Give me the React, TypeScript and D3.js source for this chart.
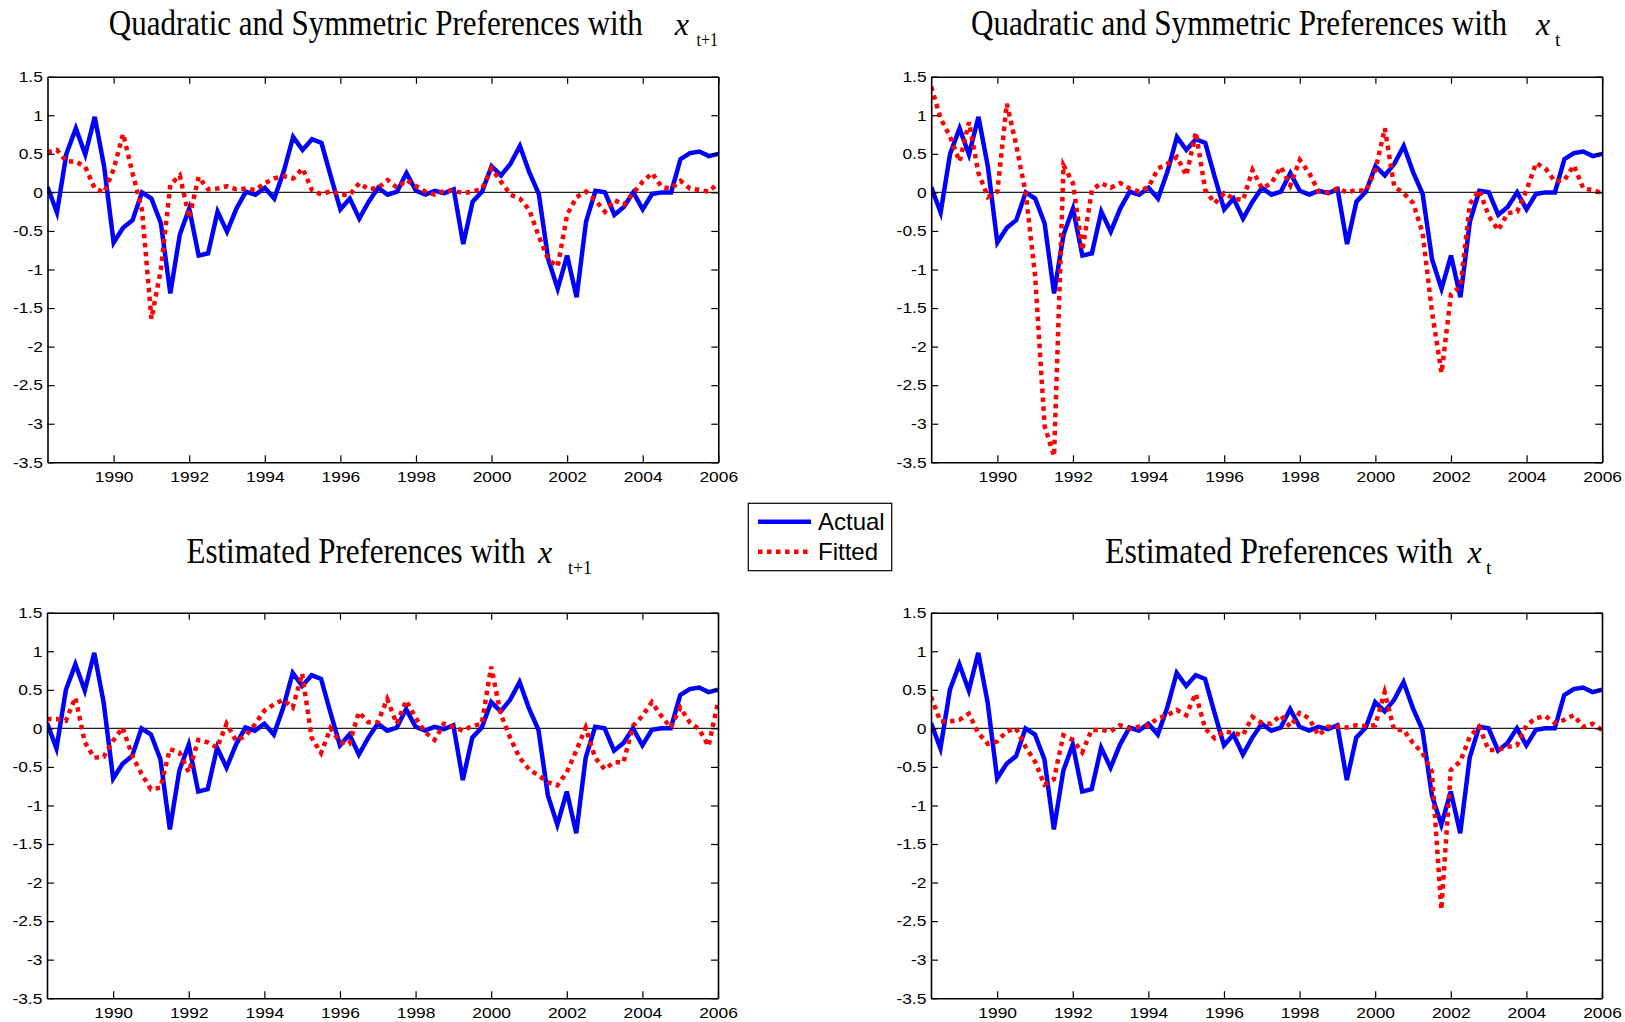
import { useEffect, useRef } from "react";
import * as d3 from "d3";

// Quarterly observations, 1988Q2 .. 2006Q1 (72 points)
const START_YEAR = 1988.25;
const END_YEAR = 2006;
const quarters = d3.range(72).map((i) => START_YEAR + i * 0.25);

const actual = [
  0.07, -0.26, 0.5, 0.83, 0.49, 0.98, 0.33, -0.65, -0.46, -0.36,
  0.0, -0.08, -0.4, -1.31, -0.55, -0.21, -0.82, -0.79, -0.25, -0.51,
  -0.21, 0.01, -0.03, 0.06, -0.08, 0.27, 0.72, 0.55, 0.69, 0.64,
  0.2, -0.22, -0.08, -0.34, -0.12, 0.06, -0.03, 0.01, 0.25, 0.02,
  -0.03, 0.02, -0.01, 0.04, -0.67, -0.12, 0.01, 0.34, 0.22, 0.37,
  0.6, 0.26, -0.02, -0.87, -1.25, -0.82, -1.36, -0.38, 0.02, 0.0,
  -0.29, -0.19, 0.0, -0.22, -0.02, 0.0, 0.0, 0.43, 0.51, 0.53,
  0.47, 0.5,
];

// quadratic & symmetric, x_{t+1}
const fittedQuadLead = [
  0.52, 0.55, 0.4, 0.4, 0.33, 0.05, 0.0, 0.3, 0.76, 0.25,
  -0.23, -1.64, -1.0, 0.1, 0.22, -0.33, 0.2, 0.04, 0.05, 0.08,
  0.04, 0.05, 0.03, 0.12, 0.18, 0.21, 0.18, 0.31, 0.03, -0.03,
  0.02, -0.03, -0.03, 0.12, 0.04, 0.06, 0.16, 0.06, 0.16, 0.08,
  0.01, -0.03, 0.02, 0.02, -0.01, 0.01, 0.05, 0.31, 0.14, -0.03,
  -0.08, -0.23, -0.57, -0.87, -0.96, -0.29, -0.06, 0.01, -0.1, -0.25,
  -0.1, -0.16, -0.01, 0.14, 0.25, 0.07, 0.05, 0.15, 0.05, 0.03,
  0.01, 0.12,
];

// quadratic & symmetric, x_t
const fittedQuadCurrent = [
  1.37, 0.96, 0.72, 0.4, 0.91, 0.25, -0.06, 0.01, 1.15, 0.61,
  -0.01, -1.09, -3.03, -3.42, 0.35, 0.12, -0.75, 0.03, 0.12, 0.06,
  0.12, 0.05, 0.01, 0.07, 0.31, 0.37, 0.46, 0.22, 0.78, 0.03,
  -0.14, -0.01, -0.08, -0.1, 0.29, 0.05, 0.12, 0.33, 0.09, 0.42,
  0.25, 0.01, 0.0, 0.05, 0.0, 0.03, 0.02, 0.29, 0.83, 0.07,
  -0.01, -0.14, -0.53, -1.56, -2.34, -1.32, -1.22, -0.15, 0.03, -0.31,
  -0.49, -0.27, -0.25, 0.03, 0.38, 0.31, 0.14, 0.16, 0.35, 0.05,
  0.03, -0.01,
];

// estimated preferences, x_{t+1}
const fittedEstLead = [
  0.12, 0.12, 0.1, 0.4, -0.18, -0.38, -0.37, -0.16, 0.01, -0.35,
  -0.59, -0.79, -0.77, -0.27, -0.31, -0.57, -0.15, -0.18, -0.25, 0.06,
  -0.16, -0.1, 0.05, 0.23, 0.31, 0.37, 0.27, 0.71, -0.12, -0.32,
  0.0, -0.18, -0.2, 0.21, 0.08, 0.08, 0.38, 0.06, 0.36, 0.14,
  -0.05, -0.15, 0.06, 0.02, -0.03, 0.03, 0.06, 0.8, 0.19, -0.12,
  -0.38, -0.53, -0.61, -0.7, -0.74, -0.57, -0.29, 0.01, -0.38, -0.53,
  -0.44, -0.44, 0.03, 0.16, 0.34, 0.16, 0.01, 0.27, 0.08, -0.01,
  -0.23, 0.34,
];

// estimated preferences, x_t
const fittedEstCurrent = [
  0.41, 0.09, 0.09, 0.11, 0.19, -0.06, -0.2, -0.17, -0.04, 0.0,
  -0.24, -0.43, -0.73, -0.66, -0.09, -0.15, -0.31, -0.02, -0.02, -0.04,
  0.04, 0.0, 0.02, 0.04, 0.13, 0.17, 0.24, 0.17, 0.45, 0.0,
  -0.13, -0.04, -0.06, -0.09, 0.15, 0.07, 0.06, 0.17, 0.02, 0.2,
  0.13, -0.09, 0.02, 0.02, 0.01, 0.04, 0.03, 0.04, 0.47, -0.02,
  -0.02, -0.19, -0.32, -0.56, -2.35, -0.54, -0.43, -0.11, 0.02, -0.28,
  -0.28, -0.24, -0.22, 0.04, 0.13, 0.16, 0.07, 0.11, 0.17, 0.02,
  0.06, -0.02,
];

const yTicks = [-3.5, -3, -2.5, -2, -1.5, -1, -0.5, 0, 0.5, 1, 1.5];
const xTicks = [1990, 1992, 1994, 1996, 1998, 2000, 2002, 2004, 2006];

const titles = [
  "Quadratic and Symmetric Preferences with",
  "Quadratic and Symmetric Preferences with",
  "Estimated Preferences with",
  "Estimated Preferences with",
];
const subscripts = ["t+1", "t", "t+1", "t"];
const fittedSeries = [fittedQuadLead, fittedQuadCurrent, fittedEstLead, fittedEstCurrent];

// pixel layout of each subplot (axes box + title placement)
const frames = [
  { x: 47.5, y: 76.7, w: 670.8, h: 385.6, tx: 108.8, tw: 534, tb: 35, xx: 674.7, sx: 696.5, sw: 21.5, sb: 46 },
  { x: 931.2, y: 76.7, w: 671, h: 385.6, tx: 971, tw: 536, tb: 35, xx: 1536, sx: 1555, sw: 5.5, sb: 46 },
  { x: 47, y: 612.7, w: 671, h: 385.5, tx: 186.5, tw: 339, tb: 563, xx: 538, sx: 568, sw: 24, sb: 574 },
  { x: 931, y: 612.7, w: 671, h: 385.5, tx: 1105, tw: 348, tb: 563, xx: 1467.5, sx: 1486, sw: 5.5, sb: 574 },
];

const SERIF = '"Liberation Serif", "Times New Roman", Times, serif';
const SANS = '"Liberation Sans", Arial, Helvetica, sans-serif';
const BLUE = "#0000ff";
const RED = "#ff0000";

export default function App() {
  const svgRef = useRef<SVGSVGElement>(null);

  useEffect(() => {
    if (!svgRef.current) return;
    const svg = d3.select(svgRef.current);
    svg.selectAll("*").remove();

    frames.forEach((f, i) => {
      const xScale = d3.scaleLinear().domain([START_YEAR, END_YEAR]).range([0, f.w]);
      const yScale = d3.scaleLinear().domain([-3.5, 1.5]).range([f.h, 0]);

      const g = svg.append("g").attr("transform", `translate(${f.x},${f.y})`);

      g.append("clipPath")
        .attr("id", `clip-${i}`)
        .append("rect")
        .attr("width", f.w)
        .attr("height", f.h);

      // zero reference line
      g.append("line")
        .attr("x1", 0)
        .attr("x2", f.w)
        .attr("y1", yScale(0))
        .attr("y2", yScale(0))
        .attr("stroke", "#222")
        .attr("stroke-width", 1.2);

      const line = d3
        .line<number>()
        .x((_, j) => xScale(quarters[j]))
        .y((d) => yScale(d));

      const plot = g.append("g").attr("clip-path", `url(#clip-${i})`);
      plot
        .append("path")
        .datum(actual)
        .attr("fill", "none")
        .attr("stroke", BLUE)
        .attr("stroke-width", 4.5)
        .attr("stroke-linejoin", "miter")
        .attr("d", line);

      plot
        .append("path")
        .datum(fittedSeries[i])
        .attr("fill", "none")
        .attr("stroke", RED)
        .attr("stroke-width", 4.5)
        .attr("stroke-dasharray", "4.5,4.5")
        .attr("d", line);

      const styleAxis = (a: d3.Selection<SVGGElement, unknown, null, undefined>) => {
        a.attr("font-family", SANS).attr("font-size", 15);
        a.select(".domain").attr("stroke", "#000").attr("stroke-width", 1.6);
        a.selectAll(".tick line").attr("stroke", "#000").attr("stroke-width", 1.2);
        a.selectAll(".tick text").attr("fill", "#000").attr("transform", "scale(1.16,1)");
      };

      g.append("g")
        .call(
          d3.axisLeft(yScale).tickValues(yTicks).tickSize(-7).tickSizeOuter(0).tickPadding(4)
            .tickFormat((d) => String(d))
        )
        .call(styleAxis);

      g.append("g")
        .attr("transform", `translate(${f.w},0)`)
        .call(d3.axisRight(yScale).tickValues(yTicks).tickSize(-7).tickSizeOuter(0).tickFormat(() => ""))
        .call(styleAxis);

      g.append("g")
        .attr("transform", `translate(0,${f.h})`)
        .call(
          d3.axisBottom(xScale).tickValues(xTicks).tickSize(-7).tickSizeOuter(0).tickPadding(9)
            .tickFormat((d) => String(d))
        )
        .call(styleAxis);

      g.append("g")
        .call(d3.axisTop(xScale).tickValues(xTicks).tickSize(-7).tickSizeOuter(0).tickFormat(() => ""))
        .call(styleAxis);

      // title: condensed serif text + italic x + subscript
      svg.append("text")
        .attr("transform", `translate(${f.tx},${f.tb}) scale(1,1.13)`)
        .attr("font-family", SERIF)
        .attr("font-size", 31)
        .attr("textLength", f.tw)
        .attr("lengthAdjust", "spacingAndGlyphs")
        .text(titles[i]);

      svg.append("text")
        .attr("x", f.xx)
        .attr("y", f.tb)
        .attr("font-family", SERIF)
        .attr("font-style", "italic")
        .attr("font-size", 32)
        .text("x");

      svg.append("text")
        .attr("x", f.sx)
        .attr("y", f.sb)
        .attr("font-family", SERIF)
        .attr("font-size", 19)
        .attr("textLength", f.sw)
        .attr("lengthAdjust", "spacingAndGlyphs")
        .text(subscripts[i]);
    });

    // legend
    const legend = svg.append("g");
    legend.append("rect")
      .attr("x", 748.3)
      .attr("y", 503.3)
      .attr("width", 143.4)
      .attr("height", 67.4)
      .attr("fill", "#fff")
      .attr("stroke", "#000")
      .attr("stroke-width", 1.2);

    const items = [
      { label: "Actual", color: BLUE, dash: null, y: 521.7 },
      { label: "Fitted", color: RED, dash: "4.5,4.5", y: 551.7 },
    ];
    items.forEach((it) => {
      legend.append("line")
        .attr("x1", 758)
        .attr("x2", 811)
        .attr("y1", it.y)
        .attr("y2", it.y)
        .attr("stroke", it.color)
        .attr("stroke-width", 4.5)
        .attr("stroke-dasharray", it.dash);
      legend.append("text")
        .attr("x", 818)
        .attr("y", it.y + 8.5)
        .attr("font-family", SANS)
        .attr("font-size", 24)
        .attr("fill", "#000")
        .text(it.label);
    });
  }, []);

  return (
    <div style={{ position: "absolute", left: 0, top: 0, background: "#fff" }}>
      <svg ref={svgRef} width={1625} height={1022} style={{ display: "block" }} />
    </div>
  );
}
